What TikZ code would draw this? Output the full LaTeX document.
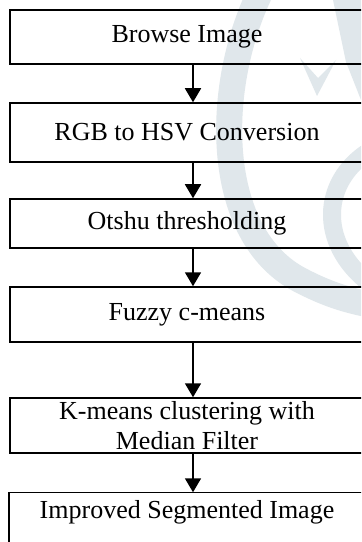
\documentclass[tikz,border=0pt]{standalone}
\usepackage{fontspec}
\setmainfont{Liberation Serif}
\usetikzlibrary{arrows.meta}
\definecolor{logotint}{RGB}{224,231,235}
\tikzset{
  stepbox/.style={draw=black, line width=1.5bp, minimum width=354bp, inner sep=0pt,
    align=center, font=\fontsize{26bp}{30bp}\selectfont},
  flow/.style={draw=black, line width=1.8bp, -{Triangle[length=14bp,width=16bp]}},
}
\begin{document}
\begin{tikzpicture}[x=1bp,y=-1bp]
\useasboundingbox (0,0) rectangle (361,542);
\clip (0,0) rectangle (361,542);
\fill[white] (0,0) rectangle (361,542);
% faint logo in the background
\draw[logotint, line width=26bp] (259,-5) .. controls (214,90) and (214,235) .. (300,280)
  .. controls (325,293) and (345,300) .. (372,305);
\fill[logotint] (300,58) -- (317,96) -- (336,60) -- (318,78) -- cycle;
\fill[logotint] (333,0) -- (361,0) -- (361,100) -- (346,62) -- cycle;
\draw[logotint, line width=18bp] (368,152) .. controls (322,182) and (318,242) .. (368,282);
% process steps
\node[stepbox, minimum height=54bp] (a) at (187,37) {Browse Image};
\node[stepbox, minimum height=59bp] (b) at (187,132.5) {RGB to HSV Conversion};
\node[stepbox, minimum height=49bp] (c) at (187,223.5) {Otshu thresholding};
\node[stepbox, minimum height=55bp] (d) at (187,314.5) {Fuzzy c-means};
\node[stepbox, minimum height=55bp] (e) at (187,425.5) {K-means clustering with\\Median Filter};
\node[stepbox, draw=none, minimum height=39bp] (f) at (187,512.5) {Improved Segmented Image};
\draw[line width=1.5bp] ([yshift=-60bp]f.north west) -- (f.north west) -- (f.north east) -- ([yshift=-60bp]f.north east);
% connectors
\foreach \u/\v in {a/b, b/c, c/d, d/e, e/f}
  \draw[flow] ([xshift=6bp]\u.south) -- ([xshift=6bp]\v.north);
\end{tikzpicture}
\end{document}
